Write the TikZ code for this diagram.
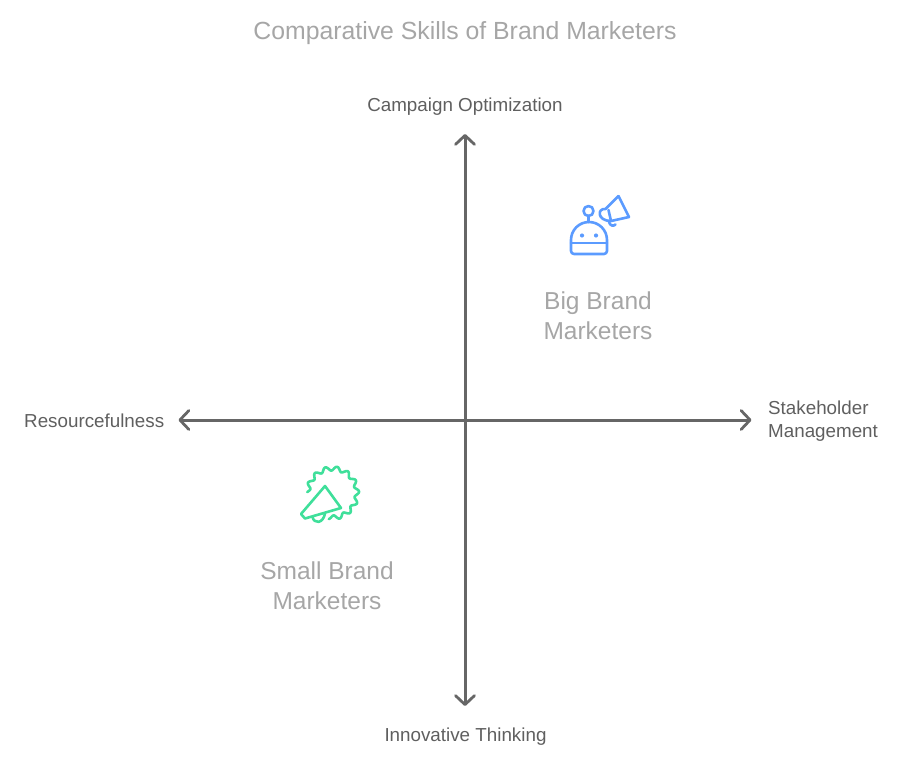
\documentclass[tikz,border=0pt]{standalone}
\usepackage{fontspec}
\setmainfont{Liberation Sans}
\usetikzlibrary{arrows.meta}
\definecolor{titlegray}{HTML}{A6A6A6}
\definecolor{labelgray}{HTML}{5F5F5F}
\definecolor{axisgray}{HTML}{666666}
\definecolor{botblue}{HTML}{5B9BFF}
\definecolor{burstgreen}{HTML}{3FDF9A}
\tikzset{
  axisline/.style={draw=axisgray,line width=3pt,line cap=round,line join=round,
    {Straight Barb[length=9pt,width=19pt,line width=2.8pt,round]}-{Straight Barb[length=9pt,width=19pt,line width=2.8pt,round]}},
  axislabel/.style={text=labelgray,font=\fontsize{18.8}{23}\selectfont,inner sep=0pt},
  quadlabel/.style={text=titlegray,font=\fontsize{24.5}{30}\selectfont,align=center,inner sep=0pt},
  titletext/.style={text=titlegray,font=\fontsize{24.8}{30}\selectfont,inner sep=0pt},
  boticon/.style={draw=botblue,line width=2.6pt,line cap=round,line join=round},
  bursticon/.style={draw=burstgreen,line width=2.6pt,line cap=round,line join=round}
}
\begin{document}
\begin{tikzpicture}[x=1pt,y=-1pt]
\useasboundingbox (0,0) rectangle (900,765);

\node[titletext] (title) at (465,33) {Comparative Skills of Brand Marketers};

% axes
\coordinate (top) at (465,134);
\coordinate (bottom) at (465,706);
\coordinate (left) at (178.5,420);
\coordinate (right) at (751.5,420);
\draw[axisline] (bottom) -- (top);
\draw[axisline] (left) -- (right);

% axis labels
\node[axislabel] (ltop) at (465,106.5) {Campaign Optimization};
\node[axislabel] (lbottom) at (465.5,737) {Innovative Thinking};
\node[axislabel,anchor=west] (lleft) at (24,420.5) {Resourcefulness};
\node[axislabel,anchor=west,align=left] (lright) at (768,421) {Stakeholder\\Management};

% quadrant labels
\node[quadlabel] (big) at (598,316) {Big Brand\\Marketers};
\node[quadlabel] (small) at (327,586) {Small Brand\\Marketers};

% robot with megaphone
\draw[boticon] (571,243) -- (571,240) arc[start angle=180,end angle=360,radius=18] -- (607,243) -- (607,251)
  arc[start angle=0,end angle=90,radius=3] -- (574,254) arc[start angle=90,end angle=180,radius=3] -- cycle;
\draw[boticon] (571,243) -- (607,243);
\draw[boticon] (588.5,211) circle[radius=5];
\draw[boticon] (588.5,216) -- (588.5,222);
\fill[botblue] (582,235.5) circle[radius=2.1] (596,235.5) circle[radius=2.1];
\draw[boticon] (618.5,196) -- (629,217) -- (611,221);
\draw[boticon] (618.5,196) -- (605.5,209);
\draw[boticon] (608.5,210) -- (611,221);
\draw[boticon] (605.5,209) .. controls (597,208) and (597,221) .. (611,221);
\draw[boticon] (609,222) .. controls (610,226) and (613.5,226.5) .. (615.5,224.5);

% megaphone inside a rough seal
\draw[bursticon] plot[smooth,samples=145,domain=182:458,variable=\t]
  ({332.5+(24.5+2.1*cos(14*\t+40))*cos(\t)},{493+(24.5+2.1*cos(14*\t+40))*sin(\t)});
\draw[bursticon] (325,486) -- (341,508) -- (305,518.5) -- (301,514) -- cycle;
\draw[bursticon] (312.5,517) .. controls (314,524) and (323,524) .. (325,513.5);
\end{tikzpicture}
\end{document}
